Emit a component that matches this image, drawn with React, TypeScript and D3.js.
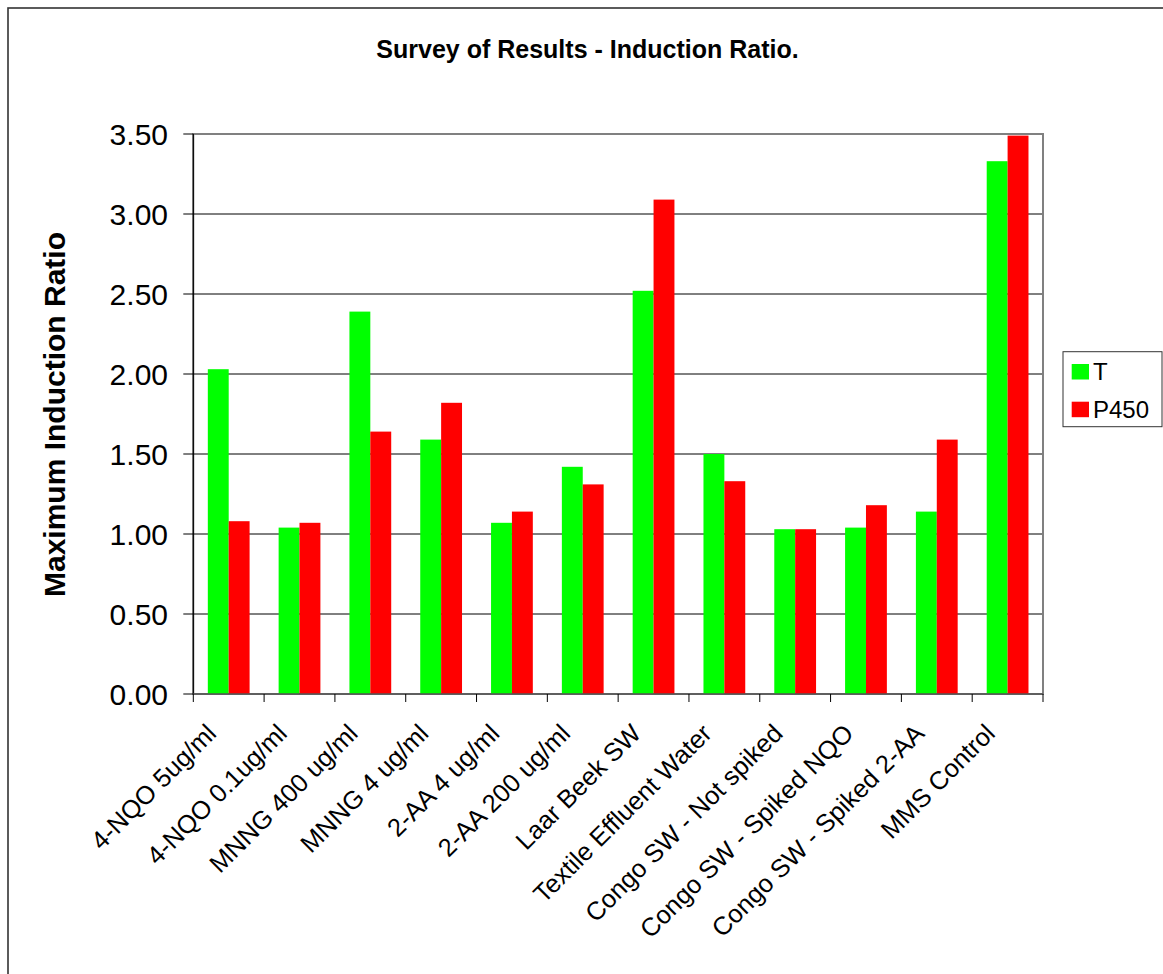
import React from "react";
import * as d3 from "d3";

// Sample names along the category axis
const categories: string[] = [
  "4-NQO 5ug/ml",
  "4-NQO 0.1ug/ml",
  "MNNG 400 ug/ml",
  "MNNG 4 ug/ml",
  "2-AA 4 ug/ml",
  "2-AA 200 ug/ml",
  "Laar Beek SW",
  "Textile Effluent Water",
  "Congo SW - Not spiked",
  "Congo SW - Spiked NQO",
  "Congo SW - Spiked 2-AA",
  "MMS Control",
];

const seriesNames: string[] = ["T", "P450"];

// Maximum induction ratio per sample
const valuesT: number[] = [2.03, 1.04, 2.39, 1.59, 1.07, 1.42, 2.52, 1.5, 1.03, 1.04, 1.14, 3.33];
const valuesP450: number[] = [1.08, 1.07, 1.64, 1.82, 1.14, 1.31, 3.09, 1.33, 1.03, 1.18, 1.59, 3.49];

const yTicks: number[] = [0, 0.5, 1, 1.5, 2, 2.5, 3, 3.5];

const seriesColors: string[] = ["#00ff00", "#ff0000"];

const FONT = "Arial, 'Liberation Sans', Helvetica, sans-serif";

export default function App() {
  const W = 1163;
  const H = 974;
  const plot = { left: 193.3, right: 1043, top: 134, bottom: 694 };

  const x0 = d3.scaleBand<string>().domain(categories).range([plot.left, plot.right]).padding(0);
  const bw = x0.bandwidth();
  const gap = bw * 0.41;
  const x1 = d3.scaleBand<string>().domain(seriesNames).range([gap / 2, bw - gap / 2]).padding(0);
  const y = d3.scaleLinear().domain([0, 3.5]).range([plot.bottom, plot.top]);

  const seriesValues = [valuesT, valuesP450];
  const fmt = d3.format(".2f");

  return (
    <svg
      width={W}
      height={H}
      style={{ position: "absolute", left: 0, top: 0, display: "block" }}
      fontFamily={FONT}
    >
      <rect x={0} y={0} width={W} height={H} fill="#ffffff" />
      {/* chart frame */}
      <rect x={8} y={8} width={W + 20} height={H + 20} fill="none" stroke="#333333" strokeWidth={1.6} />

      {/* title */}
      <text x={587.5} y={58} textAnchor="middle" fontSize={25} fontWeight="bold" fill="#000">
        Survey of Results - Induction Ratio.
      </text>

      {/* plot area border */}
      <rect
        x={plot.left}
        y={plot.top}
        width={plot.right - plot.left}
        height={plot.bottom - plot.top}
        fill="#ffffff"
        stroke="#808080"
        strokeWidth={2}
      />

      {/* gridlines */}
      {yTicks
        .filter((t) => t > 0 && t < 3.5)
        .map((t) => (
          <line key={"g" + t} x1={plot.left} x2={plot.right - 1} y1={y(t)} y2={y(t)} stroke="#000" strokeWidth={1} />
        ))}

      {/* bars */}
      {categories.map((c, i) => (
        <g key={c} transform={`translate(${x0(c)},0)`}>
          {seriesNames.map((s, k) => (
            <rect
              key={s}
              x={x1(s)}
              y={y(seriesValues[k][i])}
              width={x1.bandwidth()}
              height={y(0) - y(seriesValues[k][i])}
              fill={seriesColors[k]}
            />
          ))}
        </g>
      ))}

      {/* value axis */}
      <line x1={plot.left} x2={plot.left} y1={plot.top} y2={plot.bottom} stroke="#000" strokeWidth={1.2} />
      {yTicks.map((t) => (
        <g key={"t" + t}>
          <line x1={plot.left - 10} x2={plot.left} y1={y(t)} y2={y(t)} stroke="#000" strokeWidth={1} />
          <text x={168} y={y(t)} dy="0.36em" textAnchor="end" fontSize={30} fill="#000">
            {fmt(t)}
          </text>
        </g>
      ))}

      {/* category axis */}
      <line x1={plot.left} x2={plot.right} y1={plot.bottom} y2={plot.bottom} stroke="#555" strokeWidth={1.5} />
      {categories.map((c, i) => (
        <line
          key={"xt" + i}
          x1={x0(c)!}
          x2={x0(c)!}
          y1={plot.bottom}
          y2={plot.bottom + 8}
          stroke="#000"
          strokeWidth={1}
        />
      ))}
      <line x1={plot.right} x2={plot.right} y1={plot.bottom} y2={plot.bottom + 8} stroke="#000" strokeWidth={1} />
      {categories.map((c) => {
        const cx = x0(c)! + bw / 2 - 11;
        const cy = plot.bottom + 41;
        return (
          <text
            key={"xl" + c}
            transform={`translate(${cx},${cy}) rotate(-45)`}
            textAnchor="end"
            fontSize={25.5}
            fill="#000"
          >
            {c}
          </text>
        );
      })}

      {/* value axis title */}
      <text
        transform={`translate(65,414.5) rotate(-90)`}
        textAnchor="middle"
        fontSize={30}
        fontWeight="bold"
        fill="#000"
      >
        Maximum Induction Ratio
      </text>

      {/* legend */}
      <rect x={1063} y={351.7} width={99} height={75} fill="#fff" stroke="#333" strokeWidth={1} />
      {seriesNames.map((s, k) => (
        <g key={"lg" + s}>
          <rect x={1071.7} y={364 + k * 37.7} width={17.3} height={15.5} fill={seriesColors[k]} />
          <text x={1093} y={379.5 + k * 38} fontSize={24} fill="#000">
            {s}
          </text>
        </g>
      ))}
    </svg>
  );
}
